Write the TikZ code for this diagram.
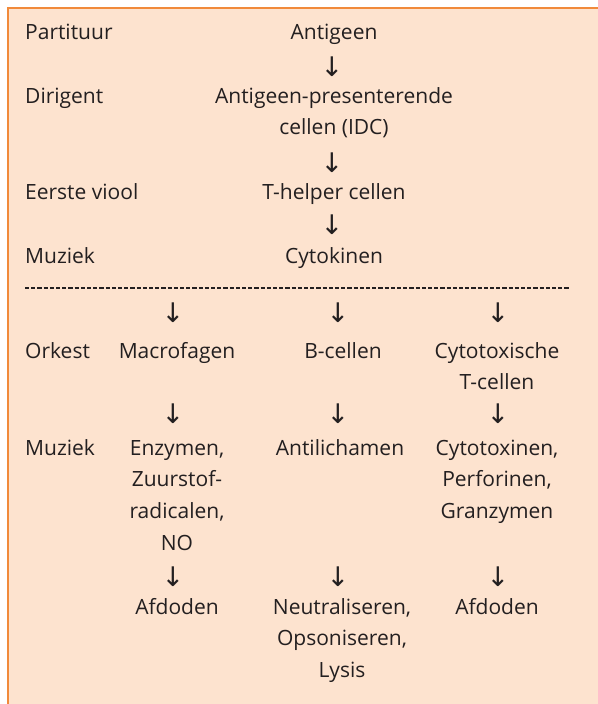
\documentclass[tikz,border=0pt]{standalone}
\usepackage{fontspec}
\setmainfont{Open Sans}
\newfontfamily\arrowfont{DejaVu Sans}
\definecolor{peach}{HTML}{FDE3CF}
\definecolor{framec}{HTML}{F18A3B}
\definecolor{ink}{HTML}{231F20}
\begin{document}
\begin{tikzpicture}[x=1pt,y=-1pt,
  every node/.style={font=\fontsize{21}{31.7}\selectfont, text=ink, inner sep=0pt},
  lab/.style={anchor=base west},
  txt/.style={anchor=base, align=center},
  dn/.style={anchor=center, font=\arrowfont\fontsize{27}{27}\selectfont}]
\useasboundingbox (0,0) rectangle (597,704);
\fill[white] (0,0) rectangle (597,704);
\fill[peach] (8,8) rectangle (600,710);
\draw[framec, line width=2.2pt] (8.2,710) -- (8.2,8.2) -- (600,8.2);

% left labels
\node[lab] (l1) at (25,39) {Partituur};
\node[lab] (l2) at (25,103) {Dirigent};
\node[lab] (l3) at (25,199) {Eerste viool};
\node[lab] (l4) at (25,263) {Muziek};
\node[lab] (l5) at (25,358) {Orkest};
\node[lab] (l6) at (25,455) {Muziek};

% top chain (base anchor = last line baseline)
\node[txt] (antigeen) at (334,39) {Antigeen};
\node[dn] (d1) at (332,67) {↓};
\node[txt] (apc) at (334,134.7) {Antigeen-presenterende\\cellen (IDC)};
\node[dn] (d2) at (332,163) {↓};
\node[txt] (th) at (334,199) {T-helper cellen};
\node[dn] (d3) at (332,225) {↓};
\node[txt] (cyto) at (334,263) {Cytokinen};

% separator
\coordinate (sepL) at (25,288);
\coordinate (sepR) at (570,288);
\draw[ink, line width=1.3pt, dash pattern=on 4.2pt off 2pt] (sepL) -- (sepR);

% row arrows
\node[dn] (a1) at (173,313) {↓};
\node[dn] (b1) at (338,313) {↓};
\node[dn] (c1) at (498,313) {↓};

\node[txt] (macro) at (177,358) {Macrofagen};
\node[txt] (bcel) at (343,358) {B-cellen};
\node[txt] (ctl) at (497,389.7) {Cytotoxische\\T-cellen};

\node[dn] (a2) at (173,414) {↓};
\node[dn] (b2) at (338,414) {↓};
\node[dn] (c2) at (498,414) {↓};

\node[txt] (enz) at (177,550.1) {Enzymen,\\Zuurstof-\\radicalen,\\NO};
\node[txt] (anti) at (340,455) {Antilichamen};
\node[txt] (ctox) at (497,518.4) {Cytotoxinen,\\Perforinen,\\Granzymen};

\node[dn] (a3) at (173,577) {↓};
\node[dn] (b3) at (338,577) {↓};
\node[dn] (c3) at (498,577) {↓};

\node[txt] (afd1) at (177,614) {Afdoden};
\node[txt] (neut) at (342,677.4) {Neutraliseren,\\Opsoniseren,\\Lysis};
\node[txt] (afd2) at (497,614) {Afdoden};
\end{tikzpicture}
\end{document}
